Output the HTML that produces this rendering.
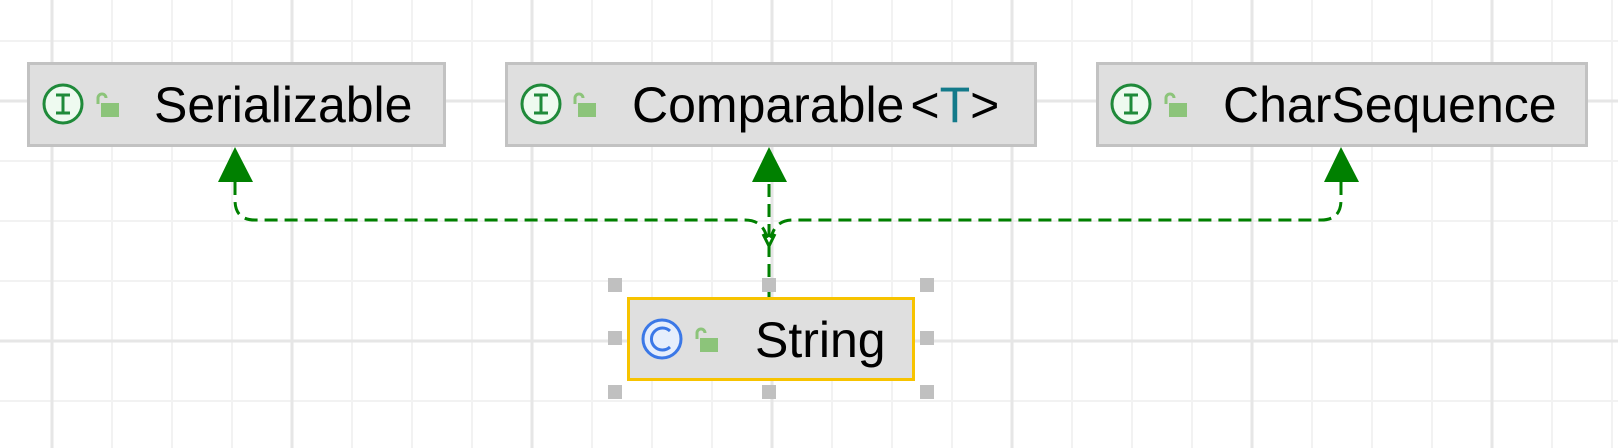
<!DOCTYPE html>
<html><head><meta charset="utf-8"><style>
html,body{margin:0;padding:0;background:#fff;}
body{width:1618px;height:448px;overflow:hidden;position:relative;font-family:"Liberation Sans",sans-serif;}
.box{position:absolute;background:#dfdfdf;border:3px solid #c2c2c2;box-sizing:border-box;}
.t{position:absolute;top:14px;font-size:50px;line-height:60px;color:#000;white-space:nowrap;}
.h{position:absolute;width:14px;height:14px;background:#c0c0c0;}
</style></head><body>
<svg width="1618" height="448" style="position:absolute;left:0;top:0">
<g stroke="#f2f2f2" stroke-width="2">
<line x1="112" y1="0" x2="112" y2="448"/><line x1="172" y1="0" x2="172" y2="448"/><line x1="232" y1="0" x2="232" y2="448"/>
<line x1="352" y1="0" x2="352" y2="448"/><line x1="412" y1="0" x2="412" y2="448"/><line x1="472" y1="0" x2="472" y2="448"/>
<line x1="592" y1="0" x2="592" y2="448"/><line x1="652" y1="0" x2="652" y2="448"/><line x1="712" y1="0" x2="712" y2="448"/>
<line x1="832" y1="0" x2="832" y2="448"/><line x1="892" y1="0" x2="892" y2="448"/><line x1="952" y1="0" x2="952" y2="448"/>
<line x1="1072" y1="0" x2="1072" y2="448"/><line x1="1132" y1="0" x2="1132" y2="448"/><line x1="1192" y1="0" x2="1192" y2="448"/>
<line x1="1312" y1="0" x2="1312" y2="448"/><line x1="1372" y1="0" x2="1372" y2="448"/><line x1="1432" y1="0" x2="1432" y2="448"/>
<line x1="1552" y1="0" x2="1552" y2="448"/><line x1="1612" y1="0" x2="1612" y2="448"/>
<line x1="0" y1="41" x2="1618" y2="41"/><line x1="0" y1="161" x2="1618" y2="161"/><line x1="0" y1="221" x2="1618" y2="221"/>
<line x1="0" y1="281" x2="1618" y2="281"/><line x1="0" y1="401" x2="1618" y2="401"/>
</g>
<g stroke="#e6e6e6" stroke-width="3">
<line x1="52" y1="0" x2="52" y2="448"/><line x1="292" y1="0" x2="292" y2="448"/><line x1="532" y1="0" x2="532" y2="448"/>
<line x1="772" y1="0" x2="772" y2="448"/><line x1="1012" y1="0" x2="1012" y2="448"/><line x1="1252" y1="0" x2="1252" y2="448"/>
<line x1="1492" y1="0" x2="1492" y2="448"/>
<line x1="0" y1="101" x2="1618" y2="101"/><line x1="0" y1="341" x2="1618" y2="341"/>
</g>
<g fill="none" stroke="#008000" stroke-width="3" stroke-dasharray="13,7">
<path d="M235,182 L235,200 Q235,220 255,220 L745,220 Q763,220 767,238"/>
<path d="M1341,182 L1341,200 Q1341,220 1321,220 L793,220 Q775,220 771,238"/>
<path d="M769,297 L769,182"/>
</g>
<path d="M763,234 L769,246 L775,234" fill="none" stroke="#008000" stroke-width="3"/>
<g fill="#008000">
<polygon points="235,147 218,182 253,182"/>
<polygon points="769,147 752,182 787,182"/>
<polygon points="1341,147 1324,182 1359,182"/>
</g>
</svg>

<div class="box" style="left:27px;top:62px;width:419px;height:85px"></div>
<div class="box" style="left:505px;top:62px;width:532px;height:85px"></div>
<div class="box" style="left:1096px;top:62px;width:492px;height:85px"></div>
<div class="box" style="left:627px;top:297px;width:288px;height:84px;border-color:#f7c300"></div>

<svg width="1618" height="448" style="position:absolute;left:0;top:0">
<g>
<circle cx="63" cy="104" r="19" fill="#eefaf0" stroke="#1f8a3a" stroke-width="3"/>
<path d="M56,95h14M63,95v18M56,113h14" stroke="#1f8a3a" stroke-width="3" fill="none"/>
<circle cx="541" cy="104" r="19" fill="#eefaf0" stroke="#1f8a3a" stroke-width="3"/>
<path d="M534,95h14M541,95v18M534,113h14" stroke="#1f8a3a" stroke-width="3" fill="none"/>
<circle cx="1131" cy="104" r="19" fill="#eefaf0" stroke="#1f8a3a" stroke-width="3"/>
<path d="M1124,95h14M1131,95v18M1124,113h14" stroke="#1f8a3a" stroke-width="3" fill="none"/>
<circle cx="662" cy="339" r="19" fill="#e6eefc" stroke="#3b78e7" stroke-width="3"/>
<path d="M670,331 A11,11 0 1 0 670,347" stroke="#3b78e7" stroke-width="3" fill="none"/>
</g>
<g fill="#8cc47a">
<rect x="101" y="103" width="18" height="14"/><path d="M98,104v-6a4,4 0 0 1 8,0" stroke="#8cc47a" stroke-width="3" fill="none"/>
<rect x="578" y="103" width="18" height="14"/><path d="M575,104v-6a4,4 0 0 1 8,0" stroke="#8cc47a" stroke-width="3" fill="none"/>
<rect x="1169" y="103" width="18" height="14"/><path d="M1166,104v-6a4,4 0 0 1 8,0" stroke="#8cc47a" stroke-width="3" fill="none"/>
<rect x="700" y="338" width="18" height="14"/><path d="M697,339v-6a4,4 0 0 1 8,0" stroke="#8cc47a" stroke-width="3" fill="none"/>
</g>
</svg>

<div class="t" style="left:154px;top:75px">Serializable</div>
<div class="t" style="left:632px;top:75px">Comparable<span style="margin-left:6px">&lt;</span><span style="color:#137a8a">T</span>&gt;</div>
<div class="t" style="left:1223px;top:75px">CharSequence</div>
<div class="t" style="left:755px;top:310px">String</div>

<div class="h" style="left:608px;top:278px"></div>
<div class="h" style="left:762px;top:278px"></div>
<div class="h" style="left:920px;top:278px"></div>
<div class="h" style="left:608px;top:331px"></div>
<div class="h" style="left:920px;top:331px"></div>
<div class="h" style="left:608px;top:385px"></div>
<div class="h" style="left:762px;top:385px"></div>
<div class="h" style="left:920px;top:385px"></div>
</body></html>
